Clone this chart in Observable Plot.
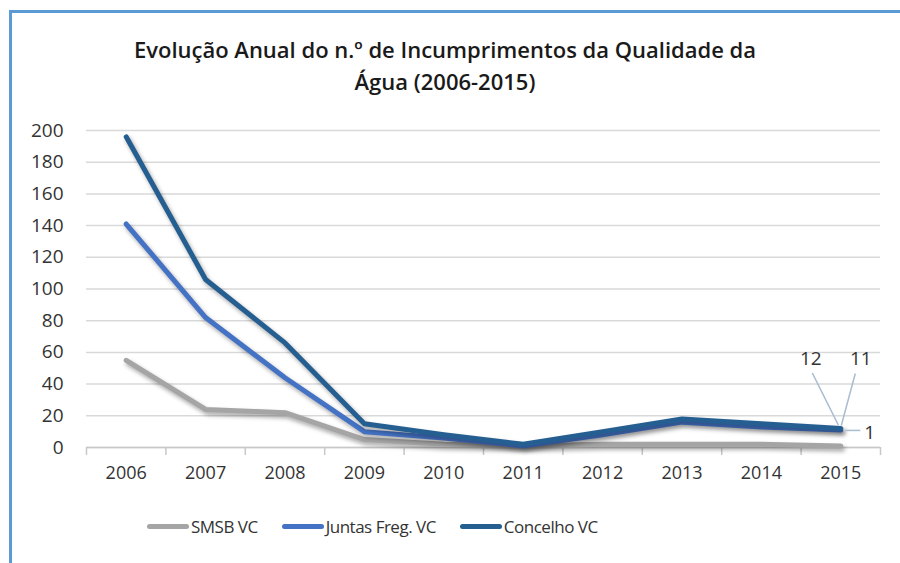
<!DOCTYPE html>
<html>
<head>
<meta charset="utf-8">
<script src="https://cdn.jsdelivr.net/npm/d3@7"></script>
<script src="https://cdn.jsdelivr.net/npm/@observablehq/plot@0.6"></script>
<style>
  body { margin: 0; background: #fff; font-family: "Open Sans", sans-serif; width: 900px; height: 563px; overflow: hidden; position: relative; }
  #frame { position: absolute; left: 9px; top: 10px; width: 891px; height: 553px; border-left: 3px solid #5b9bd5; border-top: 3px solid #5b9bd5; box-sizing: border-box; }
  #title { position: absolute; left: 0; width: 890px; top: 33px; text-align: center; font-weight: 600; font-size: 22px; line-height: 32px; color: #1a1a1a; }
  #chart { position: absolute; left: 0; top: 100px; }
  #chart svg g[aria-label="line"] path { filter: drop-shadow(2px 3px 2px rgba(0,0,0,0.35)); }
  #legend { position: absolute; top: 515px; left: 147px; display: flex; align-items: center; gap: 24px; font-size: 17px; color: #333; letter-spacing: -0.5px; }
  #legend .item { display: flex; align-items: center; }
  #legend .sw { display: inline-block; width: 42px; height: 5px; border-radius: 3px; margin-right: 2px; }
</style>
</head>
<body>
<div id="frame"></div>
<div id="title">Evolução Anual do n.º de Incumprimentos da Qualidade da<br>Água (2006-2015)</div>
<div id="chart"></div>
<div id="legend"></div>
<script>
const years = [2006, 2007, 2008, 2009, 2010, 2011, 2012, 2013, 2014, 2015];
const smsb = [55, 24, 22, 5, 2, 1, 2, 2, 2, 1];
const juntas = [141, 82, 44, 10, 6, 1, 8, 16, 13, 11];
const concelho = [196, 106, 66, 15, 8, 2, 10, 18, 15, 12];
const seriesNames = ["SMSB VC", "Juntas Freg. VC", "Concelho VC"];
const seriesColors = ["#a5a5a5", "#4472c4", "#255e91"];
const yTicks = [0, 20, 40, 60, 80, 100, 120, 140, 160, 180, 200];

const seriesValues = [smsb, juntas, concelho];
const rows = [];
seriesNames.forEach((name, s) => {
  years.forEach((yr, i) => rows.push({ series: name, year: yr, value: seriesValues[s][i] }));
});
const boundaries = years.map(y => y - 0.5).concat([years[years.length - 1] + 0.5]);
const last = years.length - 1;
const lastYear = years[last];

const leader = (index, scales) => {
  const g = d3.create("svg:g").attr("stroke", "#a9bcd0").attr("stroke-width", 1.5).attr("fill", "none");
  const px = scales.x(lastYear);
  const pc = scales.y(concelho[last]);
  const pj = scales.y(juntas[last]);
  const ps = scales.y(smsb[last]);
  g.append("line").attr("x1", px - 28).attr("y1", pc - 55).attr("x2", px - 2).attr("y2", pc - 3);
  g.append("line").attr("x1", px + 15).attr("y1", pj - 56).attr("x2", px + 1).attr("y2", pj - 4);
  g.append("line").attr("x1", px + 5).attr("y1", ps - 15).attr("x2", px + 20).attr("y2", ps - 15);
  return g.node();
};

const chart = Plot.plot({
  width: 900,
  height: 400,
  marginLeft: 86,
  marginRight: 20,
  marginTop: 30,
  marginBottom: 53,
  style: { fontFamily: "Open Sans, sans-serif", fontSize: "18px", color: "#333", background: "transparent" },
  x: { type: "linear", domain: [boundaries[0], boundaries[boundaries.length - 1]] },
  y: { domain: [0, 200] },
  color: { domain: seriesNames, range: seriesColors },
  marks: [
    Plot.gridY(yTicks, { stroke: "#d9d9d9", strokeOpacity: 1, strokeWidth: 1.5 }),
    Plot.ruleY([0], { stroke: "#c8c8c8", strokeWidth: 1.5 }),
    Plot.axisX(boundaries, { tickSize: 8, tickFormat: () => "", stroke: "#c8c8c8", strokeWidth: 1.5, label: null }),
    Plot.axisX(years, { tickSize: 0, tickPadding: 19, tickFormat: d => String(d), fill: "#333", fontSize: 18, label: null }),
    Plot.axisY(yTicks, { tickSize: 0, tickPadding: 23, fill: "#333", fontSize: 19, label: null }),
    Plot.line(rows, { x: "year", y: "value", z: "series", stroke: "series", strokeWidth: 5, strokeLinejoin: "round", strokeLinecap: "round" }),
    leader,
    Plot.text([{ year: lastYear, value: concelho[last] }], { x: "year", y: "value", text: d => String(d.value), dx: -30, dy: -70, fontSize: 19, fill: "#333" }),
    Plot.text([{ year: lastYear, value: juntas[last] }], { x: "year", y: "value", text: d => String(d.value), dx: 20, dy: -71, fontSize: 19, fill: "#333" }),
    Plot.text([{ year: lastYear, value: smsb[last] }], { x: "year", y: "value", text: d => String(d.value), dx: 29, dy: -13, fontSize: 19, fill: "#333" })
  ]
});
document.getElementById("chart").appendChild(chart);

const legend = document.getElementById("legend");
seriesNames.forEach((name, i) => {
  const item = document.createElement("div");
  item.className = "item";
  const sw = document.createElement("span");
  sw.className = "sw";
  sw.style.background = seriesColors[i];
  const t = document.createElement("span");
  t.textContent = name;
  item.appendChild(sw);
  item.appendChild(t);
  legend.appendChild(item);
});
</script>
</body>
</html>
